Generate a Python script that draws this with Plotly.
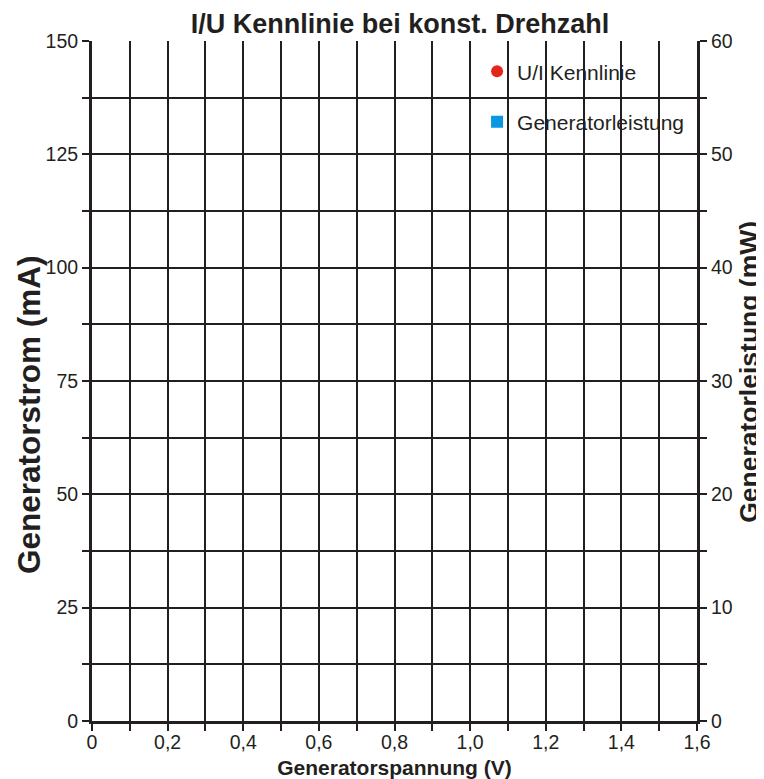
"""I/U Kennlinie bei konstanter Drehzahl - leeres Messdiagramm."""

import plotly.graph_objects as go

# Messwerte (noch keine Messpunkte eingetragen)
spannung_v = [None]
strom_ma = [None]
leistung_mw = [None]

# Achsen-Ticks
x_ticks = [0, 0.1, 0.2, 0.3, 0.4, 0.5, 0.6, 0.7, 0.8, 0.9, 1.0, 1.1, 1.2, 1.3, 1.4, 1.5, 1.6]
x_labels = ["0", "", "0,2", "", "0,4", "", "0,6", "", "0,8", "", "1,0", "", "1,2", "", "1,4", "", "1,6"]
y_ticks = [0, 12.5, 25, 37.5, 50, 62.5, 75, 87.5, 100, 112.5, 125, 137.5, 150]
y_labels = ["0", "", "25", "", "50", "", "75", "", "100", "", "125", "", "150"]
y2_ticks = [0, 5, 10, 15, 20, 25, 30, 35, 40, 45, 50, 55, 60]
y2_labels = ["0", "", "10", "", "20", "", "30", "", "40", "", "50", "", "60"]

FONT = "Liberation Sans, Arial, sans-serif"
INK = "#231f20"

fig = go.Figure()

fig.add_trace(
    go.Scatter(
        x=spannung_v,
        y=strom_ma,
        mode="markers",
        name="U/I Kennlinie",
        legendgroup="a",
        marker=dict(color="#e3261c", size=9, symbol="circle"),
    )
)
fig.add_trace(
    go.Scatter(
        x=spannung_v,
        y=leistung_mw,
        mode="markers",
        name="Generatorleistung",
        legendgroup="b",
        yaxis="y2",
        marker=dict(color="#0a96e0", size=8, symbol="square"),
    )
)

axis_common = dict(
    showgrid=True,
    gridcolor=INK,
    gridwidth=1.5,
    showline=True,
    linecolor=INK,
    linewidth=3,
    ticks="outside",
    ticklen=7,
    tickwidth=1.5,
    tickcolor=INK,
    zeroline=False,
    automargin=False,
    tickfont=dict(size=19.5, color=INK),
    fixedrange=True,
)

# die Seite hat 8px Rand, daher etwas kleiner als das Fenster
fig.update_layout(
    width=756,
    height=771,
    margin=dict(l=84, r=67, t=33, b=58),
    paper_bgcolor="white",
    plot_bgcolor="white",
    font=dict(family=FONT, color=INK),
    title=dict(
        text="<b>I/U Kennlinie bei konst. Drehzahl</b>",
        x=0.5185,
        xanchor="center",
        y=0.980,
        yanchor="middle",
        font=dict(size=27, color=INK),
    ),
    xaxis=dict(
        axis_common,
        range=[0, 1.6],
        tickmode="array",
        tickvals=x_ticks,
        ticktext=x_labels,
        ticklabelstandoff=-5,
        title=dict(text="<b>Generatorspannung (V)</b>", font=dict(size=21), standoff=10),
    ),
    yaxis=dict(
        axis_common,
        range=[0, 150],
        tickmode="array",
        tickvals=y_ticks,
        ticktext=y_labels,
    ),
    yaxis2=dict(
        axis_common,
        showgrid=False,
        overlaying="y",
        side="right",
        range=[0, 60],
        tickmode="array",
        tickvals=y2_ticks,
        ticktext=y2_labels,
    ),
    legend=dict(
        x=0.6365,
        y=0.985,
        xanchor="left",
        yanchor="top",
        bgcolor="rgba(0,0,0,0)",
        font=dict(size=21, color=INK),
        tracegroupgap=20,
        itemsizing="constant",
    ),
    showlegend=True,
)

# Achsentitel der y-Achsen als gedrehte Beschriftungen
fig.add_annotation(
    text="<b>Generatorstrom (mA)</b>",
    xref="paper", yref="paper",
    x=-0.104, y=0.45,
    xanchor="center", yanchor="middle",
    textangle=-90,
    showarrow=False,
    font=dict(size=31.5, color=INK),
)
fig.add_annotation(
    text="<b>Generatorleistung (mW)</b>",
    xref="paper", yref="paper",
    x=1.087, y=0.513,
    xanchor="center", yanchor="middle",
    textangle=-90,
    showarrow=False,
    font=dict(size=26.5, color=INK),
)

fig.write_html("out.html")
